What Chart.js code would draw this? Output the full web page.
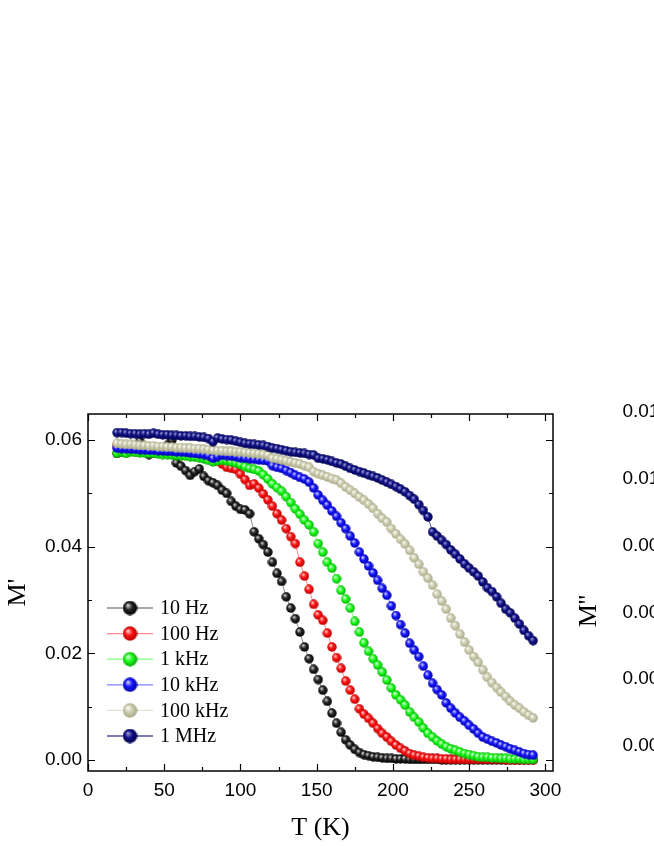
<!DOCTYPE html>
<html>
<head>
<meta charset="utf-8">
<script src="https://cdn.jsdelivr.net/npm/chart.js@4/dist/chart.umd.min.js"></script>
<style>
  html, body { margin: 0; padding: 0; background: #fff; overflow: hidden; }
  #wrap { position: relative; width: 654px; height: 846px; overflow: hidden; }
  #mainChart { position: absolute; left: 0; top: 0; }
  #sideChart { position: absolute; left: 560px; top: 0; }
</style>
</head>
<body>
<div id="wrap">
  <canvas id="mainChart" width="654" height="846"></canvas>
  <canvas id="sideChart" width="300" height="846"></canvas>
</div>
<script>
// temperature (K)
const temps = [
  19, 22, 25, 28, 31, 34, 37, 40, 43, 46,
  49, 52, 55, 58, 61, 64, 67, 70, 73, 76,
  79, 82, 85, 88, 91, 94, 97, 100, 103, 106,
  109, 112, 115, 118, 121, 124, 127, 130, 133, 136,
  139, 142, 145, 148, 151, 154, 157, 160, 163, 166,
  169, 172, 175, 178, 181, 184, 187, 190, 193, 196,
  199, 202, 205, 208, 211, 214, 217, 220, 223, 226,
  229, 232, 235, 238, 241, 244, 247, 250, 253, 256,
  259, 262, 265, 268, 271, 274, 277, 280, 283, 286,
  289, 292
];

// M' for each frequency
const m10Hz = [
  0.0575, 0.0578, 0.0583, 0.0587, 0.0584, 0.0598, 0.0581, 0.0573, 0.0576, 0.0579,
  0.0582, 0.0590, 0.0600, 0.0557, 0.0551, 0.0543, 0.0534, 0.0541, 0.0546, 0.0532,
  0.0524, 0.0520, 0.0515, 0.0506, 0.0500, 0.0485, 0.0476, 0.0470, 0.0469, 0.0462,
  0.0428, 0.0415, 0.0404, 0.0390, 0.0371, 0.0350, 0.0335, 0.0306, 0.0285, 0.0265,
  0.0240, 0.0212, 0.0190, 0.0170, 0.0151, 0.0131, 0.0110, 0.0088, 0.0069, 0.0052,
  0.0038, 0.0028, 0.0020, 0.0014, 0.0010, 0.0008, 0.0006, 0.0005, 0.0004, 0.0003,
  0.0003, 0.0002, 0.0002, 0.0002, 0.0001, 0.0001, 0.0001, 0.0001, 0.0001, 0.0001,
  0.0001, 0.0000, 0.0000, 0.0000, 0.0000, 0.0000, 0.0000, 0.0000, 0.0000, 0.0000,
  0.0000, 0.0000, 0.0000, 0.0000, 0.0000, 0.0000, 0.0000, 0.0000, 0.0000, 0.0000,
  0.0000, 0.0000
];
const m100Hz = [
  0.0590, 0.0580, 0.0576, 0.0585, 0.0578, 0.0577, 0.0578, 0.0576, 0.0577, 0.0576,
  0.0576, 0.0575, 0.0574, 0.0574, 0.0573, 0.0572, 0.0571, 0.0570, 0.0569, 0.0567,
  0.0565, 0.0563, 0.0560, 0.0555, 0.0549, 0.0547, 0.0545, 0.0536, 0.0526, 0.0515,
  0.0518, 0.0510, 0.0499, 0.0488, 0.0476, 0.0462, 0.0450, 0.0434, 0.0419, 0.0406,
  0.0371, 0.0345, 0.0320, 0.0292, 0.0272, 0.0262, 0.0238, 0.0212, 0.0192, 0.0172,
  0.0148, 0.0131, 0.0114, 0.0096, 0.0086, 0.0078, 0.0069, 0.0059, 0.0050, 0.0043,
  0.0035, 0.0028, 0.0022, 0.0017, 0.0012, 0.0009, 0.0007, 0.0005, 0.0004, 0.0003,
  0.0003, 0.0002, 0.0002, 0.0001, 0.0001, 0.0001, 0.0001, 0.0001, 0.0001, 0.0001,
  0.0001, 0.0001, 0.0001, 0.0001, 0.0001, 0.0000, 0.0000, 0.0000, 0.0000, 0.0000,
  0.0000, 0.0000
];
const m1kHz = [
  0.0576, 0.0578, 0.0575, 0.0578, 0.0577, 0.0576, 0.0576, 0.0575, 0.0575, 0.0574,
  0.0573, 0.0573, 0.0572, 0.0571, 0.0571, 0.0570, 0.0569, 0.0568, 0.0567, 0.0565,
  0.0562, 0.0559, 0.0561, 0.0562, 0.0561, 0.0559, 0.0557, 0.0554, 0.0550, 0.0547,
  0.0545, 0.0542, 0.0535, 0.0527, 0.0518, 0.0511, 0.0504, 0.0494, 0.0483, 0.0471,
  0.0461, 0.0450, 0.0441, 0.0428, 0.0406, 0.0390, 0.0371, 0.0360, 0.0340, 0.0318,
  0.0302, 0.0285, 0.0260, 0.0240, 0.0220, 0.0204, 0.0190, 0.0178, 0.0165, 0.0150,
  0.0135, 0.0122, 0.0113, 0.0103, 0.0090, 0.0080, 0.0071, 0.0060, 0.0050, 0.0043,
  0.0036, 0.0030, 0.0025, 0.0021, 0.0018, 0.0015, 0.0012, 0.0010, 0.0008, 0.0006,
  0.0005, 0.0005, 0.0004, 0.0004, 0.0003, 0.0003, 0.0002, 0.0002, 0.0002, 0.0001,
  0.0001, 0.0001
];
const m10kHz = [
  0.0585, 0.0584, 0.0584, 0.0583, 0.0583, 0.0582, 0.0582, 0.0581, 0.0581, 0.0580,
  0.0580, 0.0579, 0.0579, 0.0578, 0.0578, 0.0577, 0.0576, 0.0575, 0.0574, 0.0573,
  0.0571, 0.0566, 0.0569, 0.0572, 0.0571, 0.0570, 0.0569, 0.0567, 0.0566, 0.0565,
  0.0564, 0.0563, 0.0562, 0.0561, 0.0552, 0.0549, 0.0547, 0.0543, 0.0539, 0.0534,
  0.0530, 0.0527, 0.0521, 0.0510, 0.0497, 0.0487, 0.0478, 0.0467, 0.0457, 0.0445,
  0.0434, 0.0420, 0.0407, 0.0390, 0.0377, 0.0364, 0.0351, 0.0337, 0.0322, 0.0309,
  0.0289, 0.0271, 0.0254, 0.0238, 0.0219, 0.0206, 0.0194, 0.0176, 0.0159, 0.0144,
  0.0132, 0.0122, 0.0107, 0.0097, 0.0088, 0.0080, 0.0073, 0.0065, 0.0058, 0.0050,
  0.0043, 0.0039, 0.0035, 0.0032, 0.0028, 0.0025, 0.0021, 0.0018, 0.0015, 0.0012,
  0.0010, 0.0009
];
const m100kHz = [
  0.0594, 0.0593, 0.0592, 0.0592, 0.0591, 0.0590, 0.0590, 0.0589, 0.0589, 0.0588,
  0.0588, 0.0587, 0.0587, 0.0586, 0.0586, 0.0585, 0.0585, 0.0584, 0.0584, 0.0583,
  0.0582, 0.0581, 0.0580, 0.0580, 0.0579, 0.0579, 0.0578, 0.0578, 0.0577, 0.0576,
  0.0575, 0.0574, 0.0573, 0.0572, 0.0566, 0.0565, 0.0563, 0.0561, 0.0559, 0.0557,
  0.0555, 0.0552, 0.0549, 0.0541, 0.0537, 0.0534, 0.0531, 0.0528, 0.0525, 0.0519,
  0.0512, 0.0506, 0.0500, 0.0493, 0.0487, 0.0480, 0.0472, 0.0462, 0.0453, 0.0446,
  0.0434, 0.0424, 0.0414, 0.0405, 0.0393, 0.0379, 0.0367, 0.0353, 0.0341, 0.0328,
  0.0311, 0.0298, 0.0283, 0.0266, 0.0252, 0.0236, 0.0221, 0.0206, 0.0194, 0.0183,
  0.0169, 0.0155, 0.0145, 0.0136, 0.0127, 0.0119, 0.0110, 0.0103, 0.0097, 0.0090,
  0.0084, 0.0079
];
const m1MHz = [
  0.0614, 0.0614, 0.0613, 0.0612, 0.0612, 0.0611, 0.0612, 0.0611, 0.0613, 0.0611,
  0.0610, 0.0610, 0.0609, 0.0609, 0.0608, 0.0608, 0.0607, 0.0607, 0.0606, 0.0605,
  0.0603, 0.0597, 0.0604, 0.0602, 0.0601, 0.0600, 0.0598, 0.0596, 0.0594, 0.0593,
  0.0592, 0.0591, 0.0590, 0.0588, 0.0585, 0.0584, 0.0582, 0.0580, 0.0578, 0.0577,
  0.0576, 0.0575, 0.0573, 0.0572, 0.0566, 0.0565, 0.0563, 0.0560, 0.0557, 0.0555,
  0.0551, 0.0547, 0.0544, 0.0541, 0.0538, 0.0535, 0.0532, 0.0529, 0.0525, 0.0521,
  0.0517, 0.0513, 0.0508, 0.0503, 0.0496, 0.0489, 0.0479, 0.0468, 0.0456, 0.0428,
  0.0420, 0.0412, 0.0404, 0.0394, 0.0386, 0.0377, 0.0368, 0.0360, 0.0353, 0.0345,
  0.0334, 0.0323, 0.0316, 0.0306, 0.0294, 0.0283, 0.0276, 0.0266, 0.0255, 0.0243,
  0.0233, 0.0224
];

const seriesNames = ['10 Hz', '100 Hz', '1 kHz', '10 kHz', '100 kHz', '1 MHz'];
const seriesValues = [m10Hz, m100Hz, m1kHz, m10kHz, m100kHz, m1MHz];

const xTicks = [0, 50, 100, 150, 200, 250, 300];
const xMinorTicks = [25, 75, 125, 175, 225, 275];
const yTicks = [0, 0.02, 0.04, 0.06];
const yMinorTicks = [0.01, 0.03, 0.05];
const sideYTicks = [0.002, 0.004, 0.006, 0.008, 0.010, 0.012];

// shaded ball colours + connecting line colour
const palette = [
  { hi: '#d8d8d8', mid: '#252525', lo: '#000000', line: '#8c8c8c' },
  { hi: '#ffd6d6', mid: '#ff1414', lo: '#b00000', line: '#ff8a8a' },
  { hi: '#e4ffe4', mid: '#22ff22', lo: '#00a800', line: '#80ff80' },
  { hi: '#d6d6ff', mid: '#1818ff', lo: '#0000a0', line: '#8080ff' },
  { hi: '#fbfbf4', mid: '#cfcfb3', lo: '#a4a484', line: '#e2e2d2' },
  { hi: '#a0a0d6', mid: '#12128c', lo: '#000046', line: '#5050a0' }
];

const SANS = '"Liberation Sans", Arial, sans-serif';
const SERIF = '"Liberation Serif", "Times New Roman", serif';

function makeBall(size, c) {
  const cv = document.createElement('canvas');
  cv.width = size;
  cv.height = size;
  const g = cv.getContext('2d');
  const r = size / 2;
  const grad = g.createRadialGradient(r * 0.7, r * 0.62, r * 0.05, r, r, r);
  grad.addColorStop(0, c.hi);
  grad.addColorStop(0.45, c.mid);
  grad.addColorStop(1, c.lo);
  g.fillStyle = grad;
  g.beginPath();
  g.arc(r, r, r - 0.3, 0, Math.PI * 2);
  g.fill();
  return cv;
}

const ballsSmall = palette.map(c => makeBall(10, c));
const ballsLegend = palette.map(c => makeBall(15, c));

// box frame with inward ticks on all four sides
const framePlugin = {
  id: 'frame',
  afterDraw(chart) {
    const { ctx, chartArea: a, scales: { x, y } } = chart;
    ctx.save();
    ctx.strokeStyle = '#000';
    ctx.lineWidth = 1.5;
    ctx.strokeRect(a.left, a.top, a.right - a.left, a.bottom - a.top);
    ctx.lineWidth = 1.2;
    ctx.beginPath();
    const xt = (v, len) => {
      const px = Math.round(x.getPixelForValue(v)) + 0.5;
      ctx.moveTo(px, a.bottom); ctx.lineTo(px, a.bottom - len);
      ctx.moveTo(px, a.top); ctx.lineTo(px, a.top + len);
    };
    const yt = (v, len) => {
      const py = Math.round(y.getPixelForValue(v)) + 0.5;
      ctx.moveTo(a.left, py); ctx.lineTo(a.left + len, py);
      ctx.moveTo(a.right, py); ctx.lineTo(a.right - len, py);
    };
    xTicks.forEach(v => xt(v, 7));
    xMinorTicks.forEach(v => xt(v, 4));
    yTicks.forEach(v => yt(v, 7));
    yMinorTicks.forEach(v => yt(v, 4));
    ctx.stroke();
    ctx.restore();
  }
};

// legend drawn inside the plot, lower left
const legendPlugin = {
  id: 'innerLegend',
  afterDraw(chart) {
    const { ctx, chartArea: a } = chart;
    ctx.save();
    ctx.font = '20px ' + SERIF;
    ctx.textBaseline = 'middle';
    ctx.fillStyle = '#000';
    seriesNames.forEach((name, i) => {
      const yy = a.top + 194 + i * 25.6;
      ctx.strokeStyle = palette[i].line;
      ctx.lineWidth = 1.3;
      ctx.beginPath();
      ctx.moveTo(a.left + 19, yy);
      ctx.lineTo(a.left + 65, yy);
      ctx.stroke();
      const b = ballsLegend[i];
      ctx.drawImage(b, a.left + 42 - b.width / 2, yy - b.height / 2);
      ctx.fillText(name, a.left + 72, yy + 1);
    });
    ctx.restore();
  }
};

const datasets = seriesValues.map((vals, i) => ({
  label: seriesNames[i],
  data: vals.map((v, j) => ({ x: temps[j], y: v })),
  borderColor: palette[i].line,
  borderWidth: 1,
  pointStyle: ballsSmall[i],
  pointRadius: 5,
  fill: false,
  tension: 0,
  order: seriesValues.length - 1 - i
}));

new Chart(document.getElementById('mainChart'), {
  type: 'line',
  data: { datasets },
  options: {
    responsive: false,
    animation: false,
    devicePixelRatio: 1,
    layout: { padding: { top: 414, right: 101, left: 0, bottom: 0 } },
    plugins: { legend: { display: false }, tooltip: { enabled: false } },
    scales: {
      x: {
        type: 'linear',
        min: 0,
        max: 305,
        afterBuildTicks: s => { s.ticks = xTicks.map(v => ({ value: v })); },
        afterFit: s => { s.height = 75; },
        grid: { display: false, drawTicks: false },
        border: { display: false },
        ticks: { color: '#000', font: { family: SANS, size: 19 }, padding: 8, maxRotation: 0, autoSkip: false },
        title: { display: true, text: 'T (K)', color: '#000', font: { family: SERIF, size: 26 }, padding: { top: 0, bottom: 2 } }
      },
      y: {
        type: 'linear',
        min: -0.00206,
        max: 0.0649,
        afterBuildTicks: s => { s.ticks = yTicks.map(v => ({ value: v })); },
        afterFit: s => { s.width = 88; },
        grid: { display: false, drawTicks: false },
        border: { display: false },
        ticks: { color: '#000', font: { family: SANS, size: 19 }, padding: 6, callback: v => v.toFixed(2) },
        title: { display: true, text: "M'", color: '#000', font: { family: SERIF, size: 26 }, padding: { top: 3, bottom: 0 } }
      }
    }
  },
  plugins: [framePlugin, legendPlugin]
});

// second panel (M''), only its left axis falls inside the picture
new Chart(document.getElementById('sideChart'), {
  type: 'line',
  data: { datasets: [] },
  options: {
    responsive: false,
    animation: false,
    devicePixelRatio: 1,
    layout: { padding: { top: 400, bottom: 24, left: 0, right: 0 } },
    plugins: { legend: { display: false }, tooltip: { enabled: false } },
    scales: {
      x: { type: 'linear', display: false, min: 0, max: 305 },
      y: {
        type: 'linear',
        min: -0.000275,
        max: 0.012359,
        afterBuildTicks: s => { s.ticks = sideYTicks.map(v => ({ value: v })); },
        afterFit: s => { s.width = 116; },
        grid: { display: false, drawTicks: false },
        border: { display: false },
        ticks: { color: '#000', font: { family: SANS, size: 19 }, padding: 6, callback: v => v.toFixed(3) },
        title: { display: true, text: "M''", color: '#000', font: { family: SERIF, size: 26 }, padding: { top: 14, bottom: 0 } }
      }
    }
  }
});
</script>
</body>
</html>
